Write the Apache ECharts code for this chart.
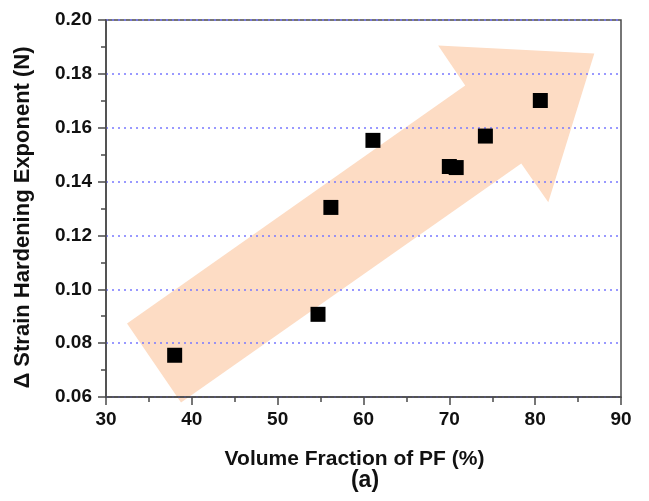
<!DOCTYPE html>
<html>
<head>
<meta charset="utf-8">
<script src="https://cdn.jsdelivr.net/npm/echarts@6/dist/echarts.min.js"></script>
<style>
  html, body { margin: 0; padding: 0; background: #fff; }
  #chart { width: 649px; height: 501px; }
</style>
</head>
<body>
<div id="chart"></div>
<script>
// volume fraction of PF (%) and the strain hardening exponent
var pfFraction = [38.0, 54.7, 56.2, 61.1, 70.0, 70.8, 74.2, 80.6];
var hardening  = [0.0755, 0.0907, 0.1304, 0.1553, 0.1456, 0.1452, 0.1569, 0.1701];

// the big arrow behind the points, in data units (x, y)
var arrowX = [32.45, 71.85, 68.70, 86.89, 81.53, 78.38, 38.74];
var arrowY = [0.0873, 0.1757, 0.1905, 0.1876, 0.1323, 0.1467, 0.0580];

var yTicks = ['0.06', '0.08', '0.10', '0.12', '0.14', '0.16', '0.18', '0.20'];

var points = pfFraction.map(function (v, i) { return [v, hardening[i]]; });
var arrow = arrowX.map(function (v, i) { return [v, arrowY[i]]; });

var font = '"Liberation Sans", Arial, sans-serif';
var axisColor = '#4a4a4a';

var myChart = echarts.init(document.getElementById('chart'));

myChart.setOption({
  animation: false,
  backgroundColor: '#fff',
  grid: {
    left: 106, right: 28, top: 20, bottom: 104,
    show: true, borderColor: axisColor, borderWidth: 1.5,
    backgroundColor: 'transparent'
  },
  xAxis: {
    type: 'value', min: 30, max: 90, interval: 10,
    name: 'Volume Fraction of PF (%)',
    nameLocation: 'middle', nameGap: 52,
    nameTextStyle: { fontFamily: font, fontWeight: 'bold', fontSize: 21, color: '#111', padding: [0, 18, 0, 0] },
    axisLine: { show: true, lineStyle: { color: axisColor, width: 1.5 } },
    axisTick: { show: true, inside: false, length: 8, lineStyle: { color: axisColor, width: 1.5 } },
    minorTick: { show: true, splitNumber: 2, length: 5, lineStyle: { color: axisColor, width: 1.5 } },
    axisLabel: { fontFamily: font, fontWeight: 'bold', fontSize: 19, color: '#111', margin: 13 },
    splitLine: { show: false }
  },
  yAxis: {
    type: 'value', min: 0.06, max: 0.20, interval: 0.02,
    name: '\u0394 Strain Hardening Exponent (N)',
    nameLocation: 'middle', nameGap: 72,
    nameTextStyle: { fontFamily: font, fontWeight: 'bold', fontSize: 22, color: '#111', padding: [0, 18, 0, 0] },
    axisLine: { show: true, lineStyle: { color: axisColor, width: 1.5 } },
    axisTick: { show: true, inside: false, length: 8, lineStyle: { color: axisColor, width: 1.5 } },
    minorTick: { show: true, splitNumber: 2, length: 5, lineStyle: { color: axisColor, width: 1.5 } },
    axisLabel: {
      fontFamily: font, fontWeight: 'bold', fontSize: 19, color: '#111', margin: 14,
      formatter: function (v) {
        var i = Math.round((v - 0.06) / 0.02);
        return yTicks[i] !== undefined ? yTicks[i] : v.toFixed(2);
      }
    },
    splitLine: { show: true, lineStyle: { color: '#7878ff', width: 1.5, type: [2, 4] } }
  },
  series: [
    {
      type: 'custom',
      silent: true,
      z: -1,
      data: [0],
      renderItem: function (params, api) {
        var pts = arrow.map(function (p) { return api.coord(p); });
        return {
          type: 'polygon',
          shape: { points: pts },
          style: { fill: '#fddcc4', stroke: null }
        };
      }
    },
    {
      type: 'scatter',
      z: 3,
      symbol: 'rect',
      symbolSize: 15,
      itemStyle: { color: '#000', opacity: 1 },
      data: points
    }
  ],
  graphic: [
    {
      type: 'text',
      x: 365, y: 481,
      style: { text: '(a)', font: 'bold 23px ' + font, fill: '#111', align: 'center', verticalAlign: 'middle' }
    }
  ]
});
</script>
</body>
</html>
